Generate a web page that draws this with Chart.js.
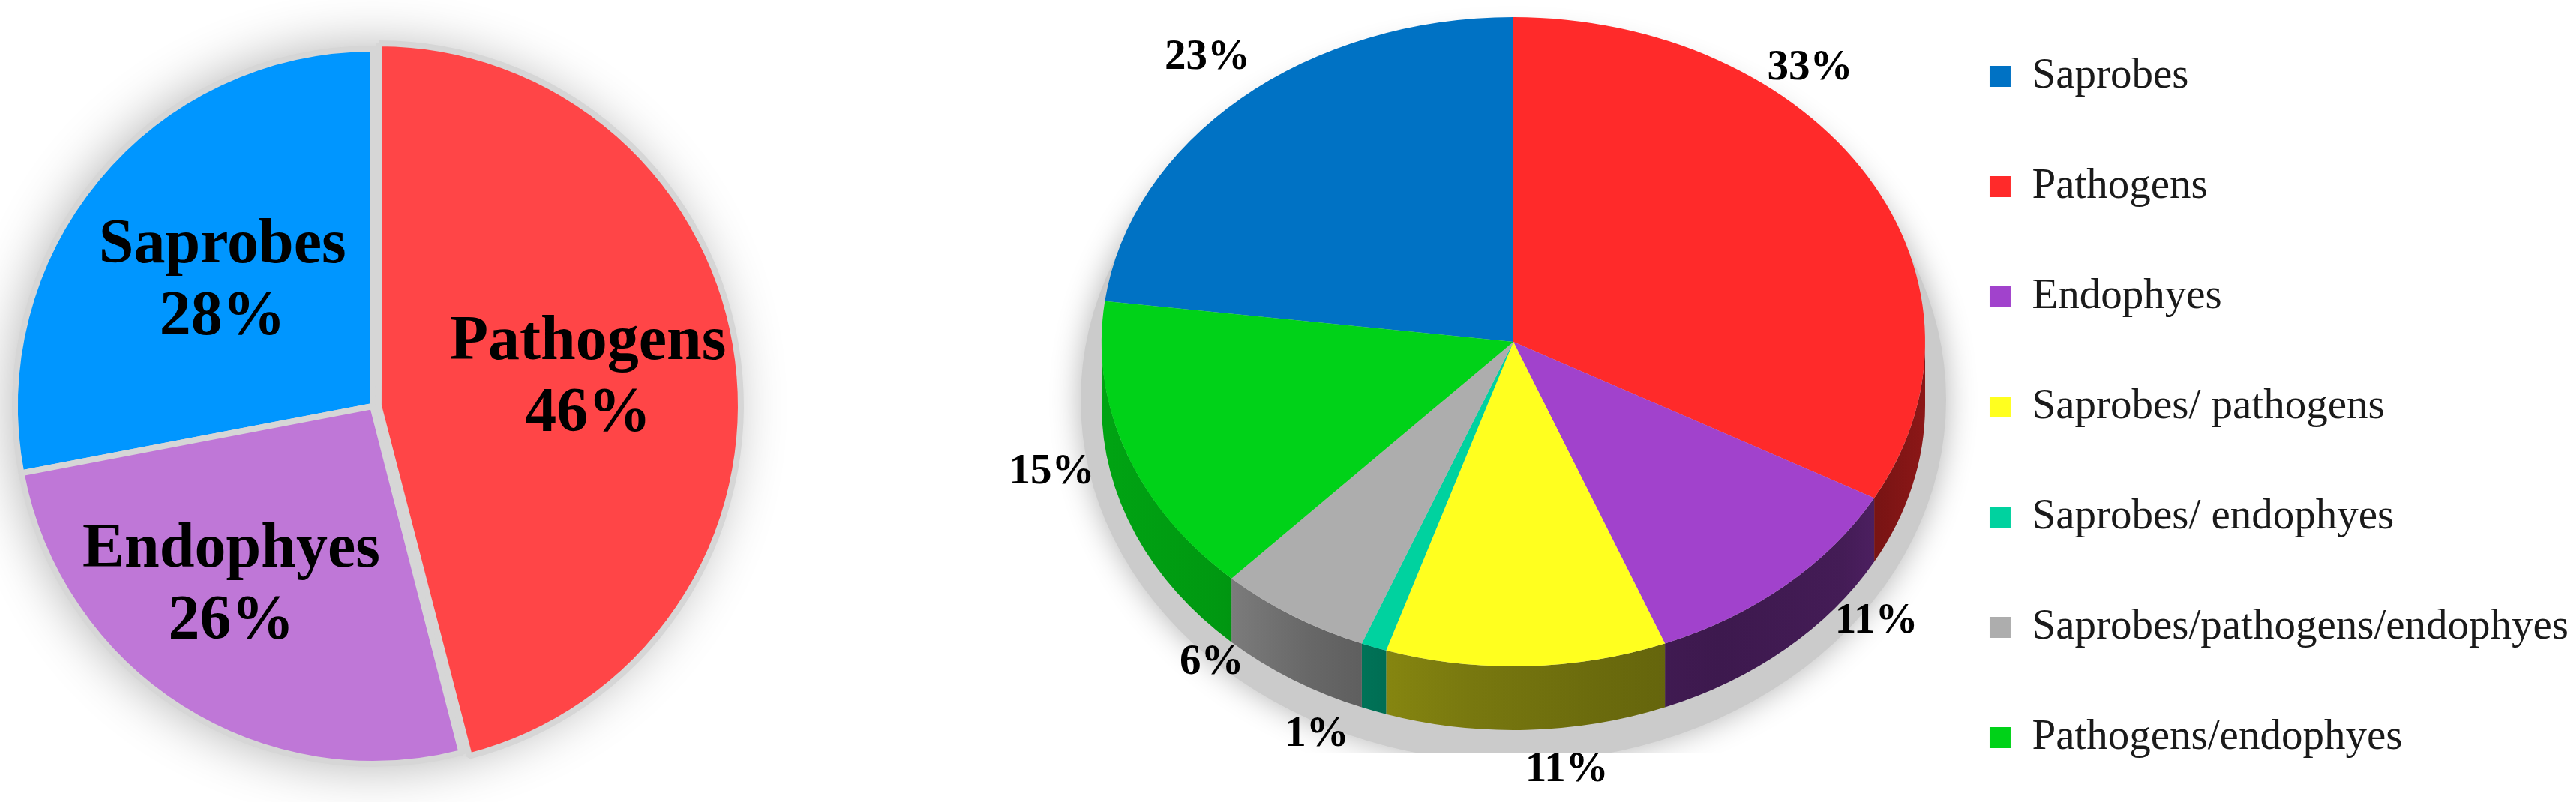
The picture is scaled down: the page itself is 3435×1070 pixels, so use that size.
<!DOCTYPE html>
<html><head><meta charset="utf-8">
<script src="https://cdn.jsdelivr.net/npm/chart.js@4/dist/chart.umd.min.js"></script>
<style>
html,body{margin:0;padding:0;background:#fff;width:3435px;height:1070px;overflow:hidden;position:relative}
#leftWrap{position:absolute;left:0;top:0;width:1200px;height:1070px}
#rightWrap{position:absolute;left:1300px;top:-17px;width:2135px;height:1120px}
canvas{display:block}
</style></head><body>
<div id="leftWrap"><canvas id="left" width="1200" height="1070"></canvas></div>
<div id="rightWrap"><canvas id="right" width="2135" height="1120"></canvas></div>
<script>
// ---------- data ----------
const leftCategories = ['Saprobes', 'Pathogens', 'Endophyes'];
const leftValues = [28, 46, 26];
const leftColors = ['#0096ff', '#ff4547', '#bf77d7'];

const rightCategories = ['Saprobes', 'Pathogens', 'Endophyes', 'Saprobes/ pathogens',
  'Saprobes/ endophyes', 'Saprobes/pathogens/endophyes', 'Pathogens/endophyes'];
const rightValues = [23, 33, 11, 11, 1, 6, 15];
const rightColors = ['#0072c4', '#ff2a2a', '#a142cc', '#ffff1f', '#00d29f', '#adadad', '#00d218'];

const sum = a => a.reduce((s, v) => s + v, 0);
const SERIF = '"Liberation Serif", "Times New Roman", serif';

function shade(hex, f) {
  const n = parseInt(hex.slice(1), 16);
  const r = (n >> 16) & 255, g = (n >> 8) & 255, b = n & 255;
  return 'rgb(' + Math.round(r * f) + ',' + Math.round(g * f) + ',' + Math.round(b * f) + ')';
}

// ---------- left pie ----------
const leftDecor = {
  id: 'leftDecor',
  beforeDatasetsDraw(chart) {
    const a = chart.getDatasetMeta(0).data[0];
    const ctx = chart.ctx;
    ctx.save();
    ctx.shadowColor = 'rgba(0,0,0,0.30)';
    ctx.shadowBlur = 70;
    ctx.fillStyle = '#d6d6d6';
    ctx.beginPath();
    ctx.arc(a.x, a.y, a.outerRadius + 3, 0, Math.PI * 2);
    ctx.fill();
    ctx.restore();
  },
  afterDatasetsDraw(chart) {
    const ctx = chart.ctx;
    const meta = chart.getDatasetMeta(0);
    const fr = [0.545, 0.59, 0.64];
    const tweak = [0, 0, 0.1];
    ctx.save();
    ctx.fillStyle = '#000';
    ctx.font = 'bold 84px ' + SERIF;
    ctx.textAlign = 'center';
    ctx.textBaseline = 'middle';
    meta.data.forEach((arc, i) => {
      const mid = (arc.startAngle + arc.endAngle) / 2 + tweak[i];
      const r = arc.outerRadius * fr[i];
      const off = (chart.data.datasets[0].offset[i] || 0) / 4;
      const x = arc.x + Math.cos(mid) * (r + off);
      const y = arc.y + Math.sin(mid) * (r + off);
      ctx.fillText(leftCategories[i], x, y - 48);
      ctx.fillText(leftValues[i] + '%', x, y + 48);
    });
    ctx.restore();
  }
};

new Chart(document.getElementById('left'), {
  type: 'pie',
  data: {
    labels: leftCategories,
    datasets: [{
      data: leftValues,
      backgroundColor: leftColors,
      borderColor: '#d6d6d6',
      borderWidth: 8,
      offset: leftCategories.map(c => c === 'Pathogens' ? 32 : 0),
      clip: false
    }]
  },
  options: {
    responsive: false,
    animation: false,
    devicePixelRatio: 1,
    rotation: -leftValues[0] / sum(leftValues) * 360,
    layout: { padding: { top: 42, bottom: 28, left: 0, right: 206 } },
    plugins: { legend: { display: false }, tooltip: { enabled: false } }
  },
  plugins: [leftDecor]
});

// ---------- right 3D pie ----------
const pie3d = {
  id: 'pie3d',
  beforeDatasetsDraw(chart, args, o) {
    const ctx = chart.ctx;
    const arcs = chart.getDatasetMeta(0).data;
    const a0 = arcs[0];
    const X = o.cx, Y = o.cy, rx = o.rx, ry = o.ry, D = o.depth;
    // soft shadow
    ctx.save();
    ctx.beginPath();
    ctx.rect(0, 0, chart.width, o.shadowBottom);
    ctx.clip();
    ctx.shadowColor = 'rgba(0,0,0,0.30)';
    ctx.shadowBlur = 40;
    ctx.fillStyle = '#cbcbcb';
    ctx.beginPath();
    ctx.ellipse(X, Y + D / 2 + 35, rx + 28, ry + 50, 0, 0, Math.PI * 2);
    ctx.fill();
    ctx.restore();
    // side walls
    const stops = [[0, 0.78], [0.15, 0.72], [0.25, 0.6], [0.35, 0.52], [0.45, 0.47], [0.6, 0.42], [0.75, 0.38], [0.9, 0.42], [1, 0.55]];
    arcs.forEach((arc, i) => {
      const col = chart.data.datasets[0].backgroundColor[i];
      const grad = ctx.createLinearGradient(X - rx, 0, X + rx, 0);
      stops.forEach(s => grad.addColorStop(s[0], shade(col, s[1])));
      for (let k = -1; k <= 1; k++) {
        const lo = Math.max(arc.startAngle, 2 * Math.PI * k);
        const hi = Math.min(arc.endAngle, 2 * Math.PI * k + Math.PI);
        if (hi <= lo) continue;
        ctx.save();
        ctx.fillStyle = grad;
        ctx.beginPath();
        ctx.ellipse(X, Y, rx, ry, 0, lo, hi, false);
        ctx.lineTo(X + rx * Math.cos(hi), Y + D + ry * Math.sin(hi));
        ctx.ellipse(X, Y + D, rx, ry, 0, hi, lo, true);
        ctx.closePath();
        ctx.fill();
        ctx.restore();
      }
    });
    // tilt the top face
    ctx.save();
    ctx.translate(X, Y);
    ctx.scale(rx / a0.outerRadius, ry / a0.outerRadius);
    ctx.translate(-a0.x, -a0.y);
  },
  afterDatasetsDraw(chart, args, o) {
    const ctx = chart.ctx;
    ctx.restore();
    const arcs = chart.getDatasetMeta(0).data;
    const X = o.cx, Y = o.cy, rx = o.rx, ry = o.ry, D = o.depth;
    ctx.save();
    ctx.fillStyle = '#000';
    ctx.font = 'bold 57px ' + SERIF;
    ctx.textAlign = 'center';
    ctx.textBaseline = 'middle';
    arcs.forEach((arc, i) => {
      const mid = (arc.startAngle + arc.endAngle) / 2;
      const s = Math.sin(mid);
      const nx = X + rx * Math.cos(mid) + o.nudge[i][0];
      const ny = Y + ry * s + (s > 0 ? D : 0) + o.nudge[i][1];
      ctx.fillText(rightValues[i] + '%', nx, ny);
    });
    ctx.restore();
  }
};

new Chart(document.getElementById('right'), {
  type: 'pie',
  data: {
    labels: rightCategories,
    datasets: [{
      data: rightValues,
      backgroundColor: rightColors,
      borderWidth: 0,
      clip: false
    }]
  },
  options: {
    responsive: false,
    animation: false,
    devicePixelRatio: 1,
    rotation: -rightValues[0] / sum(rightValues) * 360,
    layout: { padding: 0 },
    plugins: {
      tooltip: { enabled: false },
      legend: {
        position: 'right',
        labels: {
          font: { family: SERIF, size: 57 },
          color: '#1a1a1a',
          boxWidth: 28,
          boxHeight: 28,
          padding: 90
        }
      },
      pie3d: {
        cx: 718, cy: 473, rx: 549, ry: 433, depth: 85, shadowBottom: 1022,
        nudge: [[-45, -54], [-77, -144], [121, -37], [54, 53], [-76, 32], [-108, -22], [-99, -57]]
      }
    }
  },
  plugins: [pie3d]
});
</script>
</body></html>
